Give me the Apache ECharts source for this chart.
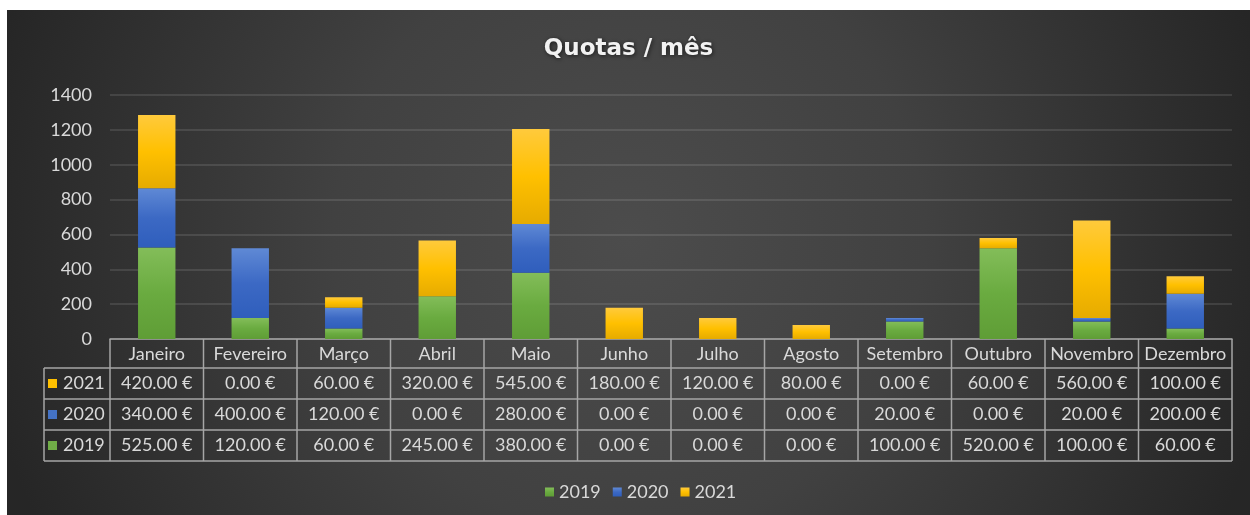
<!DOCTYPE html>
<html>
<head>
<meta charset="utf-8">
<title>Quotas / mês</title>
<script src="https://cdn.jsdelivr.net/npm/echarts@6/dist/echarts.min.js"></script>
<style>
    html, body { margin: 0; padding: 0; background: #fff; }
    #chart { position: absolute; left: 7px; top: 10px; width: 1243px; height: 505px; }
</style>
</head>
<body>
<div id="chart"></div>
<script>
// 月份
const months = ['Janeiro', 'Fevereiro', 'Março', 'Abril', 'Maio', 'Junho',
    'Julho', 'Agosto', 'Setembro', 'Outubro', 'Novembro', 'Dezembro'];
// 年份
const years = ['2019', '2020', '2021'];
// 各年数据
const quotas2019 = [525, 120, 60, 245, 380, 0, 0, 0, 100, 520, 100, 60];
const quotas2020 = [340, 400, 120, 0, 280, 0, 0, 0, 20, 0, 20, 200];
const quotas2021 = [420, 0, 60, 320, 545, 180, 120, 80, 0, 60, 560, 100];
// 纵轴刻度
const yMin = 0;
const yMax = 1400;
const yStep = 200;

const quotas = { '2019': quotas2019, '2020': quotas2020, '2021': quotas2021 };

// 颜色
const solid = { '2019': '#70ad47', '2020': '#4472c4', '2021': '#ffc000' };
const grad = {
    '2019': ['#83bd59', '#6aab40', '#5f9d36'],
    '2020': ['#5f89d5', '#3c69c4', '#2f5ebc'],
    '2021': ['#ffca3c', '#ffc000', '#e6ab00']
};
const textColor = '#d9d9d9';
const borderColor = '#a6a6a6';
const font = 'Lato, "Open Sans", sans-serif';
const fontSize = 18;

const fmt = v => v.toFixed(2) + ' €';

const chart = echarts.init(document.getElementById('chart'));

const option = {
    backgroundColor: {
        type: 'radial', x: 0.5, y: 0.45, r: 1.3,
        colorStops: [
            { offset: 0, color: '#4c4c4c' },
            { offset: 0.45, color: '#414141' },
            { offset: 1, color: '#262626' }
        ]
    },
    title: {
        text: 'Quotas / mês',
        left: 'center',
        top: 23,
        textStyle: {
            color: '#f2f2f2',
            fontFamily: '"DejaVu Sans", sans-serif',
            fontWeight: 'bold',
            fontSize: 23,
            textShadowColor: 'rgba(0,0,0,0.6)',
            textShadowBlur: 4,
            textShadowOffsetX: 1,
            textShadowOffsetY: 1
        }
    },
    legend: {
        data: years,
        left: 533,
        top: 468,
        icon: 'rect',
        itemWidth: 9,
        itemHeight: 9,
        itemGap: 12,
        textStyle: { color: textColor, fontSize: fontSize, fontFamily: font }
    },
    grid: { left: 103, right: 18, top: 85, bottom: 176 },
    xAxis: {
        type: 'category',
        data: months,
        axisLine: { lineStyle: { color: borderColor, width: 1.5 } },
        axisTick: { show: false },
        axisLabel: { color: textColor, fontSize: fontSize, fontFamily: font, margin: 6, interval: 0 }
    },
    yAxis: {
        type: 'value',
        min: yMin,
        max: yMax,
        interval: yStep,
        axisLine: { show: false },
        axisTick: { show: false },
        axisLabel: {
            color: textColor, fontSize: fontSize, fontFamily: font, margin: 18,
            formatter: v => String(v)
        },
        splitLine: { lineStyle: { color: 'rgba(255,255,255,0.14)', width: 1.5 } }
    },
    series: years.map(y => ({
        name: y,
        type: 'bar',
        stack: 'total',
        barWidth: '40%',
        data: quotas[y],
        itemStyle: {
            color: {
                type: 'linear', x: 0, y: 0, x2: 0, y2: 1,
                colorStops: [
                    { offset: 0, color: grad[y][0] },
                    { offset: 0.5, color: grad[y][1] },
                    { offset: 1, color: grad[y][2] }
                ]
            }
        }
    }))
};

chart.setOption(option);

/**
 * 数据表：按坐标轴换算位置
 */
function buildTable() {
    const c0 = chart.convertToPixel({ xAxisIndex: 0 }, 0);
    const c1 = chart.convertToPixel({ xAxisIndex: 0 }, 1);
    const band = c1 - c0;
    const y0 = chart.convertToPixel({ yAxisIndex: 0 }, 0);
    const left = c0 - band / 2;
    const right = left + band * months.length;
    const tableLeft = left - 66;
    // 表头 + 三行
    const rowLines = [y0, y0 + 29, y0 + 60, y0 + 91, y0 + 122];
    const bottom = rowLines[rowLines.length - 1];
    const line = (x1, y1, x2, y2) => ({
        type: 'line', z: 10,
        shape: { x1, y1, x2, y2 },
        style: { stroke: borderColor, lineWidth: 1.5 }
    });
    const els = [];
    // 竖线
    for (let i = 0; i <= months.length; i++) {
        els.push(line(left + band * i, y0, left + band * i, bottom));
    }
    els.push(line(tableLeft, rowLines[1], tableLeft, bottom));
    // 横线
    for (let r = 1; r < rowLines.length; r++) {
        els.push(line(tableLeft, rowLines[r], right, rowLines[r]));
    }
    // 行内容：2021 在上
    const rowYears = years.slice().reverse();
    rowYears.forEach((y, r) => {
        const cy = (rowLines[r + 1] + rowLines[r + 2]) / 2;
        els.push({
            type: 'rect', z: 10,
            shape: { x: tableLeft + 4, y: cy - 4.5, width: 9, height: 9 },
            style: { fill: solid[y] }
        });
        els.push({
            type: 'text', z: 10, x: tableLeft + 19, y: cy,
            style: {
                text: y, fill: textColor, font: fontSize + 'px ' + font,
                align: 'left', verticalAlign: 'middle',
                textAlign: 'left', textVerticalAlign: 'middle'
            }
        });
        quotas[y].forEach((v, i) => {
            els.push({
                type: 'text', z: 10, x: left + band * (i + 0.5), y: cy,
                style: {
                    text: fmt(v), fill: textColor, font: fontSize + 'px ' + font,
                    align: 'center', verticalAlign: 'middle',
                    textAlign: 'center', textVerticalAlign: 'middle'
                }
            });
        });
    });
    chart.setOption({ graphic: els });
}

buildTable();
</script>
</body>
</html>
